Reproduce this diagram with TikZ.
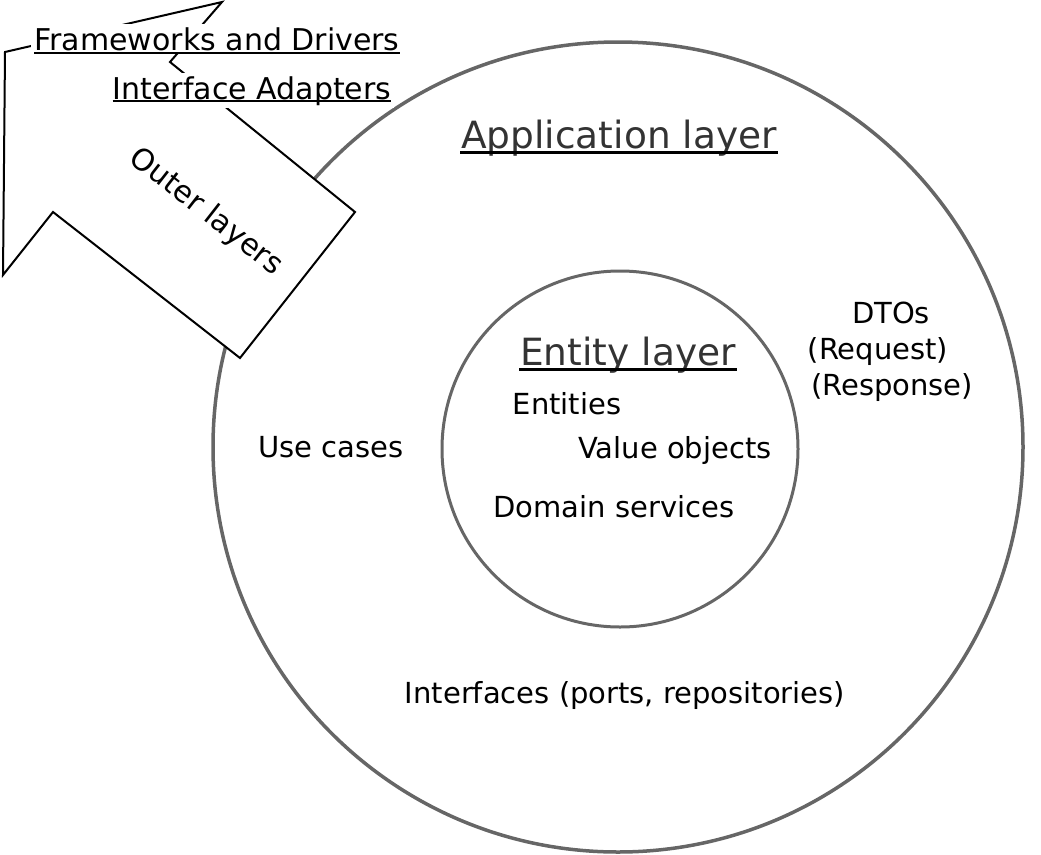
\documentclass[tikz,border=0pt]{standalone}
\usepackage{fontspec}
\setmainfont{DejaVu Sans}
\usetikzlibrary{positioning, calc}
\definecolor{ringgray}{HTML}{666666}
\definecolor{titlegray}{HTML}{333333}
\tikzset{
    x=1pt, y=-1pt, % work in image pixels, y going down
    ring/.style={circle, draw=ringgray, line width=3.5pt, inner sep=0pt}, % the two layer circles
    bigarrow/.style={draw=black, fill=white, line width=2pt, line join=miter}, % the outer layers arrow
    plain text/.style={font=\fontsize{29}{35}\selectfont, anchor=base, inner sep=1pt},
    title text/.style={font=\fontsize{37.5}{44}\selectfont, text=titlegray, anchor=base, inner sep=1pt},
    tag text/.style={plain text, font=\fontsize{30}{36}\selectfont, fill=white, inner sep=3pt},
    underline/.style={line width=2pt},
}

\begin{document}
\begin{tikzpicture}
    \useasboundingbox (0,0) rectangle (1041,854);
    % layers
    \node[ring, minimum size=810pt] (appring) at (618,447) {};
    \node[ring, line width=3pt, minimum size=356pt] (entring) at (620,449) {};
    % outer layers arrow
    \coordinate (corner) at (5,52);
    \coordinate (tip) at (222,2);
    \coordinate (notch) at (170,62);
    \coordinate (tailr) at (355,212);
    \coordinate (tailb) at (240,358);
    \coordinate (barbin) at (53,212);
    \coordinate (barbout) at (3,275);
    \draw[bigarrow] (corner) -- (tip) -- (notch) -- (tailr) -- (tailb) -- (barbin) -- (barbout) -- cycle;
    \node[plain text, font=\fontsize{30}{36}\selectfont, anchor=center, rotate=-38] (outer) at (206,212) {Outer layers};
    % labels on the arrow
    \node[tag text] (frame) at (217,50) {Frameworks and Drivers};
    \draw[underline] ($(frame.base west)+(3,3)$) -- ($(frame.base east)+(-3,3)$);
    \node[tag text] (adapt) at (252,99) {Interface Adapters};
    \draw[underline] ($(adapt.base west)+(3,2)$) -- ($(adapt.base east)+(-3,2)$);
    % application layer
    \node[title text] (app) at (619,148) {Application layer};
    \draw[underline, line width=3pt] ($(app.base west)+(0,4)$) -- ($(app.base east)+(0,4)$);
    \node[plain text] (usecase) at (331,457) {Use cases};
    \node[plain text] (dtos) at (891,323) {DTOs};
    \node[plain text] (req) at (878,359) {(Request)};
    \node[plain text] (resp) at (892,395) {(Response)};
    \node[plain text] (ports) at (625,703) {Interfaces (ports, repositories)};
    % entity layer
    \node[title text] (ent) at (628,365) {Entity layer};
    \draw[underline, line width=3pt] ($(ent.base west)+(0,4)$) -- ($(ent.base east)+(0,4)$);
    \node[plain text] (entities) at (567,414) {Entities};
    \node[plain text] (values) at (675,458) {Value objects};
    \node[plain text] (domain) at (614,517) {Domain services};
\end{tikzpicture}
\end{document}
